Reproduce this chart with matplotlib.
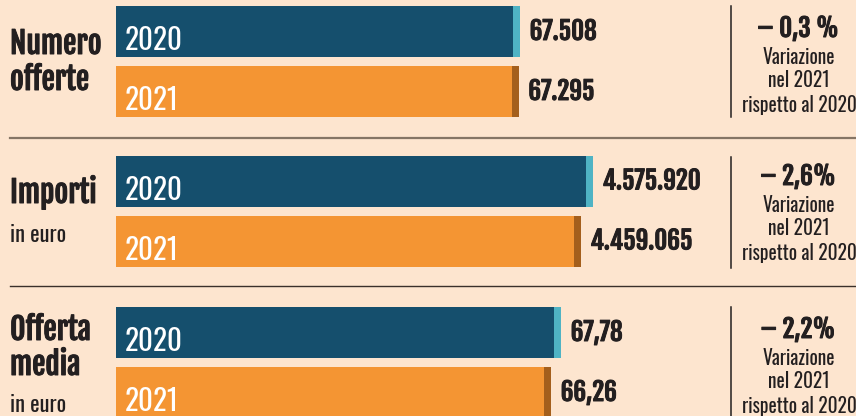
import matplotlib
matplotlib.use('Agg')
import matplotlib.pyplot as plt
import matplotlib.font_manager as fm
import matplotlib.patheffects as pe
from matplotlib.lines import Line2D

# dati
anni = ["2020", "2021"]
numero_offerte = [67508, 67295]
importi = [4575920, 4459065]
offerta_media = [67.78, 66.26]
etichette_valori = [["67.508", "67.295"], ["4.575.920", "4.459.065"], ["67,78", "66,26"]]
variazioni = ["– 0,3 %", "– 2,6%", "– 2,2%"]
titoli = [["Numero", "offerte"], ["Importi"], ["Offerta", "media"]]
sottotitoli = [None, "in euro", "in euro"]

nomi = {f.name for f in fm.fontManager.ttflist}


def scegli(candidati):
    return [n for n in candidati if n in nomi] + ['DejaVu Sans']


# font condensati: uno normale e uno "nero" per i numeri/titoli
REG = scegli(['Oswald', 'Roboto Condensed', 'Liberation Sans Narrow'])
BOLD = scegli(['Fjalla One', 'Roboto Condensed', 'Liberation Sans Narrow'])
PESO_B = 'normal' if BOLD[0] == 'Fjalla One' else 'bold'
plt.rcParams['font.family'] = REG

BG = '#fde5cf'
BLU = '#154f6d'
CIANO = '#4fb3c4'
ARANCIO = '#f49533'
MARRONE = '#a45f1c'
TESTO = '#231f20'

# un filo di contorno per rendere il "nero" più pesante
SPESSO = [pe.withStroke(linewidth=0.7, foreground=TESTO)]

W, H = 856, 416
fig = plt.figure(figsize=(W / 100, H / 100), dpi=100, facecolor=BG)


def fx(px):
    return px / W


def fy(py):
    return 1 - py / H


# pannelli: (valori, centro barra 2020 in px, xmax asse)
pannelli = [
    (numero_offerte, 31.5, 123654),
    (importi, 181, 7098880),
    (offerta_media, 332.5, 112.71),
]

for i, (vals, c2020, xmax) in enumerate(pannelli):
    top = c2020 - 30
    ax = fig.add_axes([fx(116), fy(top + 120), fx(856) - fx(116), 120 / H])
    ax.set_facecolor('none')
    ax.set_xlim(0, xmax)
    ax.set_ylim(-0.5, 1.5)
    ax.axis('off')
    ypos = [1, 0]
    h = 0.85
    cap = xmax * 7 / 740
    colori = [BLU, ARANCIO]
    colori_cap = [CIANO, MARRONE]
    for j in range(2):
        ax.barh(ypos[j], vals[j], height=h, color=colori[j], linewidth=0)
        ax.barh(ypos[j], cap, left=vals[j] - cap, height=h, color=colori_cap[j], linewidth=0)
        ax.annotate(anni[j], xy=(0, ypos[j] - h / 2), xytext=(6, 5), textcoords='offset points',
                    color='white', fontsize=21, va='baseline', ha='left')
        ax.annotate(etichette_valori[i][j], xy=(vals[j], ypos[j]), xytext=(7, 0),
                    textcoords='offset points', color=TESTO, fontsize=18, family=BOLD,
                    fontweight=PESO_B, va='center', ha='left', path_effects=SPESSO)

# titoli a sinistra
basi_titoli = [[54, 90], [203], [340, 375]]
for t, basi in zip(titoli, basi_titoli):
    for riga, b in zip(t, basi):
        fig.text(fx(10), fy(b), riga, fontsize=21.5, family=BOLD, fontweight=PESO_B,
                 color=TESTO, va='baseline', path_effects=SPESSO)
for s, b in zip(sottotitoli, [None, 242, 412]):
    if s:
        fig.text(fx(10), fy(b), s, fontsize=16, color=TESTO, va='baseline')

# variazioni a destra
basi_var = [37, 185, 338]
for v, b in zip(variazioni, basi_var):
    fig.text(fx(798), fy(b), v, fontsize=18, family=BOLD, fontweight=PESO_B, color=TESTO,
             ha='center', va='baseline', path_effects=SPESSO)
    for k, riga in enumerate(["Variazione", "nel 2021", "rispetto al 2020"]):
        fig.text(fx(799), fy(b + 27 + 23 * k + (2 if k == 2 else 0)), riga, fontsize=14,
                 color=TESTO, ha='center', va='baseline')

# linee verticali
for y0, y1 in [(6, 117), (157, 268), (307, 416)]:
    fig.add_artist(Line2D([fx(731), fx(731)], [fy(y0), fy(y1)], color=TESTO, lw=1.1))

# separatori orizzontali
fig.add_artist(Line2D([fx(10), fx(856)], [fy(137.5), fy(137.5)], color='#857565', lw=1.6))
fig.add_artist(Line2D([fx(10), fx(856)], [fy(286), fy(286)], color='#3a302a', lw=1.0))

fig.savefig('out.png', dpi=100, facecolor=BG)
